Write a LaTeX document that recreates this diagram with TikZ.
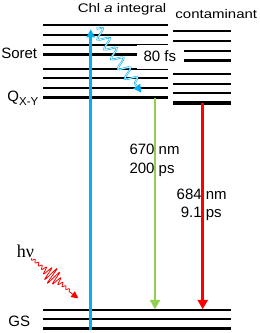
\documentclass[tikz,border=0pt]{standalone}
\usepackage{fontspec}
\setmainfont{Liberation Sans}
\newfontfamily\seriffont{Liberation Serif}
\usetikzlibrary{arrows.meta,decorations.pathmorphing}
\definecolor{lblue}{RGB}{0,176,240}
\definecolor{lgreen}{RGB}{146,208,80}
\definecolor{pred}{RGB}{255,0,0}
\begin{document}
\begin{tikzpicture}[x=1pt,y=-1pt,
  thinlevel/.style={line width=2pt},
  thicklevel/.style={line width=3.3pt},
  lbl/.style={inner sep=0pt,font=\fontsize{15}{18}\selectfont},
  transarrow/.style={line width=2.7pt,-{Triangle[length=9.5pt,width=10pt]}},
  snakeline/.style={decorate,decoration={snake,amplitude=5.5pt,segment length=12pt,post length=9pt}}]
\useasboundingbox (0,0) rectangle (260,333);
% left stack (Chl a)
\foreach \yy in {25,35,45,69.3,78.3,87.7} \draw[thinlevel] (43,\yy) -- (168,\yy);
\foreach \yy in {54.3,97.7} \draw[thicklevel] (43,\yy) -- (168,\yy);
% right stack (contaminant)
\foreach \yy in {31,41,74,83.7,93} \draw[thinlevel] (173.3,\yy) -- (230.7,\yy);
\draw[thinlevel] (184,50.8) -- (230.7,50.8);
\draw[thicklevel] (184,60.7) -- (230.7,60.7);
\draw[thicklevel] (173.3,103) -- (230.7,103);
% ground state
\foreach \yy in {309.7,319} \draw[thinlevel] (43,\yy) -- (231,\yy);
\draw[thicklevel] (43,328.7) -- (231,328.7);
% box behind 80 fs
\fill[white] (136.7,45.1) rectangle (170,68.7);
% labels
\node[lbl,anchor=base] (chl) at (122,12.5) {\scalebox{1.2}[1]{\fontsize{12.5}{14}\selectfont Chl \textit{a} integral}};
\node[lbl,anchor=base] (cont) at (216.3,18.3) {\scalebox{1.2}[1]{\fontsize{12.5}{14}\selectfont contaminant}};
\node[lbl,anchor=base] (soret) at (19.2,58.3) {Soret};
\node[lbl,anchor=base west] (qxy) at (7.3,101) {Q\raisebox{-4pt}{\fontsize{11.5}{12}\selectfont X-Y}};
\node[lbl,anchor=base west] (fs) at (143.3,61) {80 fs};
\node[lbl,anchor=base west] (g1) at (129.3,154) {670 nm};
\node[lbl,anchor=base west] (g2) at (129.3,173) {200 ps};
\node[lbl,anchor=base] (r1) at (201.7,199) {684 nm};
\node[lbl,anchor=base] (r2) at (201.2,217) {9.1 ps};
\node[inner sep=0pt,anchor=base] (hv) at (25.5,257.3) {\seriffont\fontsize{18}{20}\selectfont hν};
\node[lbl,anchor=base] (gs) at (19.3,326.7) {GS};
% coordinates for transitions
\coordinate (absB) at (90.7,330.3);
\coordinate (absT) at (90.7,29.3);
\coordinate (snA) at (96.3,28.3);
\coordinate (snB) at (141.3,92.7);
\coordinate (grT) at (155,97.7);
\coordinate (grB) at (155,309.3);
\coordinate (rdT) at (202.7,103);
\coordinate (rdB) at (202.7,309.3);
\coordinate (hvTip) at (78.3,298.3);
% absorption
\draw[lblue,line width=2.7pt,-{Triangle[length=8pt,width=8pt]}] (absB) -- (absT);
% relaxation squiggle
\draw[lblue,line width=1.8pt,snakeline,-{Triangle[length=8pt,width=8pt]}] (snA) -- (snB);
\draw[white,line width=0.6pt,snakeline,shorten >=8pt] (snA) -- (snB);
% emissions
\draw[lgreen,transarrow] (grT) -- (grB);
\draw[pred,transarrow] (rdT) -- (rdB);
% photon
\draw[pred,line width=0.8pt,-{Triangle[length=7pt,width=7pt]}]
  plot[domain=0:50,samples=400,smooth]
  ({31.7+0.759*\x-0.651*(1.3+7.5*exp(-((\x-27)/8)^2))*sin(80*\x)},
   {258.3+0.651*\x+0.759*(1.3+7.5*exp(-((\x-27)/8)^2))*sin(80*\x)})
  -- (hvTip);
\end{tikzpicture}
\end{document}
